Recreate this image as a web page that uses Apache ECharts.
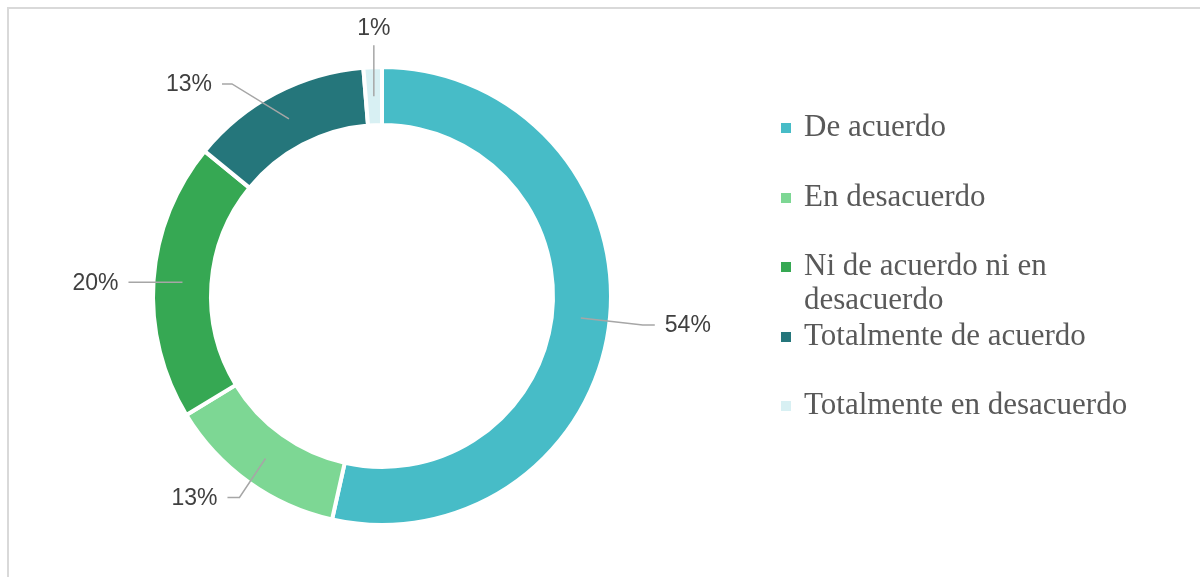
<!DOCTYPE html>
<html>
<head>
<meta charset="utf-8">
<script src="https://cdn.jsdelivr.net/npm/echarts@6/dist/echarts.min.js"></script>
<style>
  html, body { margin: 0; padding: 0; background: #fff; }
  #chart { width: 1200px; height: 577px; }
</style>
</head>
<body>
<div id="chart"></div>
<script>
// Data
const categories = ['De acuerdo', 'En desacuerdo', 'Ni de acuerdo ni en desacuerdo', 'Totalmente de acuerdo', 'Totalmente en desacuerdo'];
const values = [53.5, 12.8, 19.6, 12.8, 1.3];
const colors = ['#47BCC7', '#7DD794', '#36A853', '#25767B', '#D8F0F3'];
// leader line elbow offsets from the anchor point, and horizontal tail length (style)
const leaderDx = [62, -26, -42, -57, 0];
const leaderDy = [7, 39, 0, -35, -51];
const leaderTail = [12, 12, 12, 10, 0];
// legend vertical positions (layout)
const legendTops = [110, 180, 215, 319, 388];

const chart = echarts.init(document.getElementById('chart'), null, { renderer: 'canvas' });

const ringData = categories.map((c, i) => ({ name: c, value: values[i], itemStyle: { color: colors[i] } }));
const labelData = categories.map((c, i) => ({ name: c, value: values[i] }));

const legends = categories.map((c, i) => ({
  data: [c],
  orient: 'vertical',
  left: 779,
  top: legendTops[i],
  padding: 0,
  icon: 'rect',
  itemWidth: 12,
  itemHeight: 12,
  selectedMode: false,
  formatter: function (name) {
    return name === 'Ni de acuerdo ni en desacuerdo' ? '\nNi de acuerdo ni en\ndesacuerdo' : name;
  },
  textStyle: {
    fontFamily: 'Liberation Serif',
    fontSize: 31,
    color: '#595959',
    lineHeight: 34,
    padding: [2, 0, 0, 7]
  }
}));

const option = {
  animation: false,
  backgroundColor: '#ffffff',
  legend: legends,
  graphic: [
    { type: 'line', shape: { x1: 7, y1: 8, x2: 1200, y2: 8 }, style: { stroke: '#d9d9d9', lineWidth: 2 } },
    { type: 'line', shape: { x1: 8, y1: 7, x2: 8, y2: 577 }, style: { stroke: '#d9d9d9', lineWidth: 2 } }
  ],
  series: [
    {
      type: 'pie',
      z: 2,
      center: [382, 296],
      radius: [171, 229],
      startAngle: 90,
      clockwise: true,
      avoidLabelOverlap: false,
      label: { show: false },
      labelLine: { show: false },
      itemStyle: { borderColor: '#ffffff', borderWidth: 4 },
      emphasis: { disabled: true },
      data: ringData
    },
    {
      type: 'pie',
      z: 5,
      center: [382, 296],
      radius: [0, 200],
      startAngle: 90,
      clockwise: true,
      silent: true,
      avoidLabelOverlap: false,
      itemStyle: { color: 'rgba(0,0,0,0)', borderWidth: 0 },
      emphasis: { disabled: true },
      label: {
        show: true,
        position: 'outside',
        fontFamily: 'Liberation Sans',
        fontSize: 23,
        color: '#404040',
        formatter: function (p) { return Math.round(p.percent) + '%'; }
      },
      labelLine: {
        show: true,
        length: 20,
        length2: 10,
        smooth: false,
        lineStyle: { color: '#a6a6a6', width: 1.5 }
      },
      labelLayout: function (params) {
        const pts = params.labelLinePoints;
        if (!pts) return {};
        const i = params.dataIndex;
        const p0 = pts[0];
        const elbow = [p0[0] + leaderDx[i], p0[1] + leaderDy[i]];
        if (leaderTail[i] === 0) {
          return {
            x: elbow[0], y: elbow[1] - 5,
            align: 'center', verticalAlign: 'bottom',
            labelLinePoints: [p0, elbow, elbow]
          };
        }
        const dir = leaderDx[i] < 0 ? -1 : 1;
        const end = [elbow[0] + dir * leaderTail[i], elbow[1]];
        return {
          x: end[0] + dir * 10, y: end[1] + 1,
          align: dir < 0 ? 'right' : 'left', verticalAlign: 'middle',
          labelLinePoints: [p0, elbow, end]
        };
      },
      data: labelData
    }
  ]
};

chart.setOption(option);
</script>
</body>
</html>
